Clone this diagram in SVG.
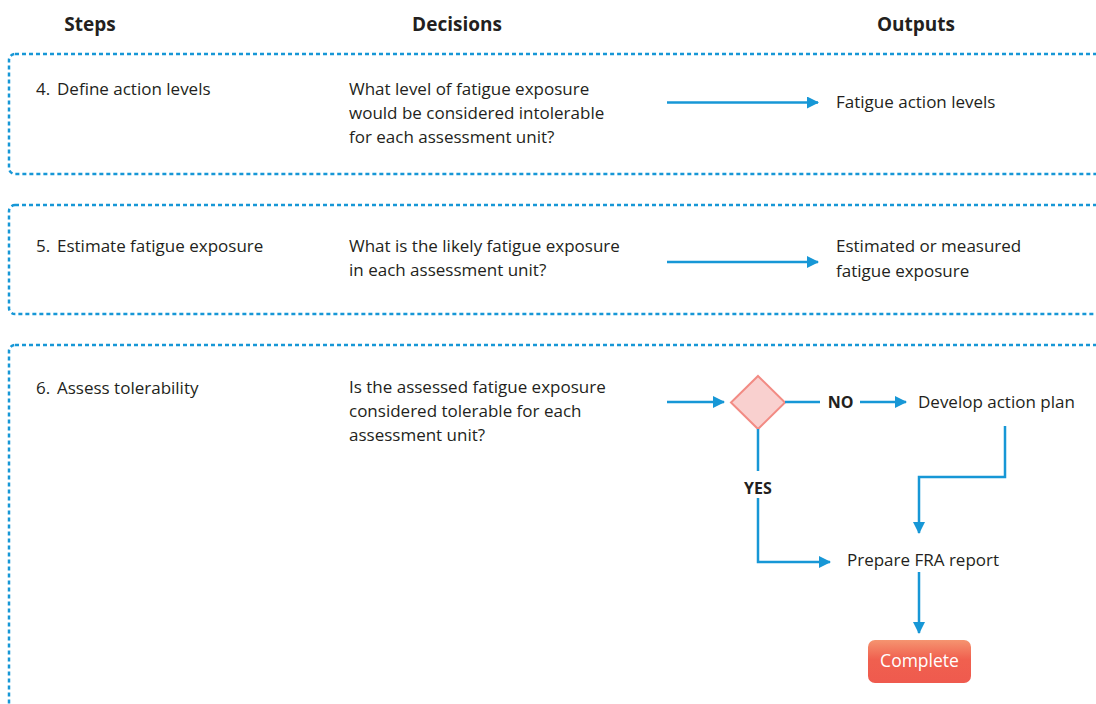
<svg xmlns="http://www.w3.org/2000/svg" width="1096" height="704" viewBox="0 0 1096 704">
  <defs>
    <marker id="arrow" viewBox="0 0 12 12" refX="11" refY="6" markerWidth="12" markerHeight="12" markerUnits="userSpaceOnUse" orient="auto">
      <path d="M0,0 L12,6 L0,12 Z" fill="#1797d6"/>
    </marker>
    <linearGradient id="btn" x1="0" y1="0" x2="0" y2="1">
      <stop offset="0" stop-color="#f59470"/>
      <stop offset="0.45" stop-color="#f0604f"/>
      <stop offset="1" stop-color="#ef5a4e"/>
    </linearGradient>
  </defs>
  <style>
    text { font-family: "Open Sans", "Liberation Sans", sans-serif; fill: #231f20; }
    .hdr { font-size: 19px; font-weight: bold; text-anchor: middle; }
    .t { font-size: 17px; }
    .b { font-size: 16px; font-weight: bold; }
    .lane { fill: none; stroke: #1797d6; stroke-width: 2.5; stroke-dasharray: 4 3; }
    .c { fill: none; stroke: #1797d6; stroke-width: 2.5; }
  </style>
  <rect width="1096" height="704" fill="#ffffff"/>

  <g id="headers">
    <text class="hdr" x="90" y="31">Steps</text>
    <text class="hdr" x="457" y="31">Decisions</text>
    <text class="hdr" x="916" y="31">Outputs</text>
  </g>

  <g id="lane4">
    <rect class="lane" x="9" y="54" width="1120" height="120" rx="6"/>
    <text class="t" x="36" y="95">4.<tspan x="57">Define action levels</tspan></text>
    <text class="t" x="349" y="95">What level of fatigue exposure</text>
    <text class="t" x="349" y="119">would be considered intolerable</text>
    <text class="t" x="349" y="143">for each assessment unit?</text>
    <text class="t" x="836" y="108">Fatigue action levels</text>
  </g>

  <g id="lane5">
    <rect class="lane" x="9" y="205" width="1120" height="109" rx="6"/>
    <text class="t" x="36" y="252">5.<tspan x="57">Estimate fatigue exposure</tspan></text>
    <text class="t" x="349" y="252">What is the likely fatigue exposure</text>
    <text class="t" x="349" y="276">in each assessment unit?</text>
    <text class="t" x="836" y="252">Estimated or measured</text>
    <text class="t" x="836" y="277">fatigue exposure</text>
  </g>

  <g id="lane6">
    <rect class="lane" x="9" y="345" width="1120" height="400" rx="6"/>
    <text class="t" x="36" y="394">6.<tspan x="57">Assess tolerability</tspan></text>
    <text class="t" x="349" y="393">Is the assessed fatigue exposure</text>
    <text class="t" x="349" y="417">considered tolerable for each</text>
    <text class="t" x="349" y="441">assessment unit?</text>
  </g>

  <g id="decision">
    <polygon points="758,376 785,402.5 758,429 731,402.5" fill="#f9d0cf" stroke="#f28b84" stroke-width="2"/>
  </g>

  <g id="develop">
    <text class="t" x="918" y="408">Develop action plan</text>
  </g>

  <g id="report">
    <text class="t" x="847" y="566">Prepare FRA report</text>
  </g>

  <g id="complete">
    <rect x="868" y="640" width="103" height="43" rx="7" fill="url(#btn)"/>
    <text x="919.5" y="667" text-anchor="middle" style="font-size:17.5px; fill:#ffffff">Complete</text>
  </g>

  <g id="connectors">
    <line class="c" x1="667" y1="102.5" x2="818" y2="102.5" marker-end="url(#arrow)"/>
    <line class="c" x1="667" y1="262" x2="818" y2="262" marker-end="url(#arrow)"/>
    <line class="c" x1="667" y1="402" x2="724" y2="402" marker-end="url(#arrow)"/>
    <line class="c" x1="785" y1="402" x2="820" y2="402"/>
    <text class="b" x="840.5" y="408" text-anchor="middle">NO</text>
    <line class="c" x1="860" y1="402" x2="906" y2="402" marker-end="url(#arrow)"/>
    <polyline class="c" points="1005,426 1005,477 919,477 919,533" marker-end="url(#arrow)"/>
    <line class="c" x1="758" y1="429" x2="758" y2="471"/>
    <text class="b" x="758" y="494" text-anchor="middle">YES</text>
    <polyline class="c" points="758,498 758,562 830,562" marker-end="url(#arrow)"/>
    <line class="c" x1="919" y1="572" x2="919" y2="633" marker-end="url(#arrow)"/>
  </g>
</svg>
